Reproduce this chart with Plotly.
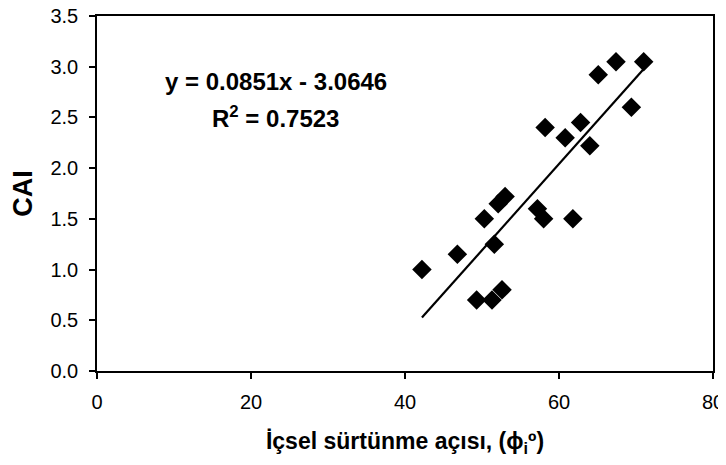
import plotly.graph_objects as go

# Data
phi_i = [42.2, 46.8, 50.3, 49.3, 51.3, 52.6, 51.6, 52.1, 53.0, 57.2,
         58.0, 61.8, 58.2, 60.8, 62.8, 64.0, 65.1, 67.4, 69.4, 71.0]
cai = [1.00, 1.15, 1.50, 0.70, 0.70, 0.80, 1.25, 1.65, 1.72, 1.60,
       1.50, 1.50, 2.40, 2.30, 2.45, 2.22, 2.92, 3.05, 2.60, 3.05]

slope = 0.0851
intercept = -3.0646
r2 = 0.7523

x_ticks = [0, 20, 40, 60, 80]
y_ticks = [0.0, 0.5, 1.0, 1.5, 2.0, 2.5, 3.0, 3.5]

trend_x = [min(phi_i), max(phi_i)]
trend_y = [slope * v + intercept for v in trend_x]

FONT = "Liberation Sans, Arial, sans-serif"

fig = go.Figure()
fig.add_trace(go.Scatter(
    x=trend_x, y=trend_y, mode="lines",
    line=dict(color="black", width=2.2), showlegend=False, hoverinfo="skip"))
fig.add_trace(go.Scatter(
    x=phi_i, y=cai, mode="markers",
    marker=dict(symbol="diamond", size=15, color="black",
                line=dict(width=0)),
    showlegend=False))

fig.add_annotation(x=23.2, y=2.85, xref="x", yref="y", showarrow=False,
                   text="<b>y = %.4fx - %.4f</b>" % (slope, -intercept),
                   font=dict(family=FONT, size=24, color="black"))
fig.add_annotation(x=23.2, y=2.50, xref="x", yref="y", showarrow=False,
                   text="<b>R<sup>2</sup> = %.4f</b>" % r2,
                   font=dict(family=FONT, size=24, color="black"))

# page body adds an 8px margin, so the figure is sized to fit the 726x465 window
fig.update_layout(
    width=718, height=457,
    margin=dict(l=89, r=13, t=8, b=94),
    paper_bgcolor="white", plot_bgcolor="white",
    font=dict(family=FONT, color="black"),
    xaxis=dict(
        range=[0, 80], tickvals=x_ticks, ticktext=[str(v) for v in x_ticks],
        automargin=False, ticklabeloverflow="allow",
        showgrid=False, zeroline=False,
        showline=True, linecolor="black", linewidth=1.5, mirror=True,
        ticks="outside", ticklen=6, tickwidth=1.5, tickcolor="black",
        ticklabelstandoff=6,
        tickfont=dict(family=FONT, size=20, color="black"),
        title=dict(text="<b>İçsel sürtünme açısı, (ϕ<sub>i</sub>º)</b>",
                   font=dict(family=FONT, size=23, color="black"),
                   standoff=21),
    ),
    yaxis=dict(
        range=[0, 3.5], tickvals=y_ticks, ticktext=["%.1f" % v for v in y_ticks],
        automargin=False, ticklabeloverflow="allow",
        showgrid=False, zeroline=False,
        showline=True, linecolor="black", linewidth=1.5, mirror=True,
        ticks="outside", ticklen=6, tickwidth=1.5, tickcolor="black",
        ticklabelstandoff=7,
        tickfont=dict(family=FONT, size=20, color="black"),
        title=dict(text="<b>CAI</b>",
                   font=dict(family=FONT, size=27, color="black"),
                   standoff=14),
    ),
)

fig.write_html("out.html")
